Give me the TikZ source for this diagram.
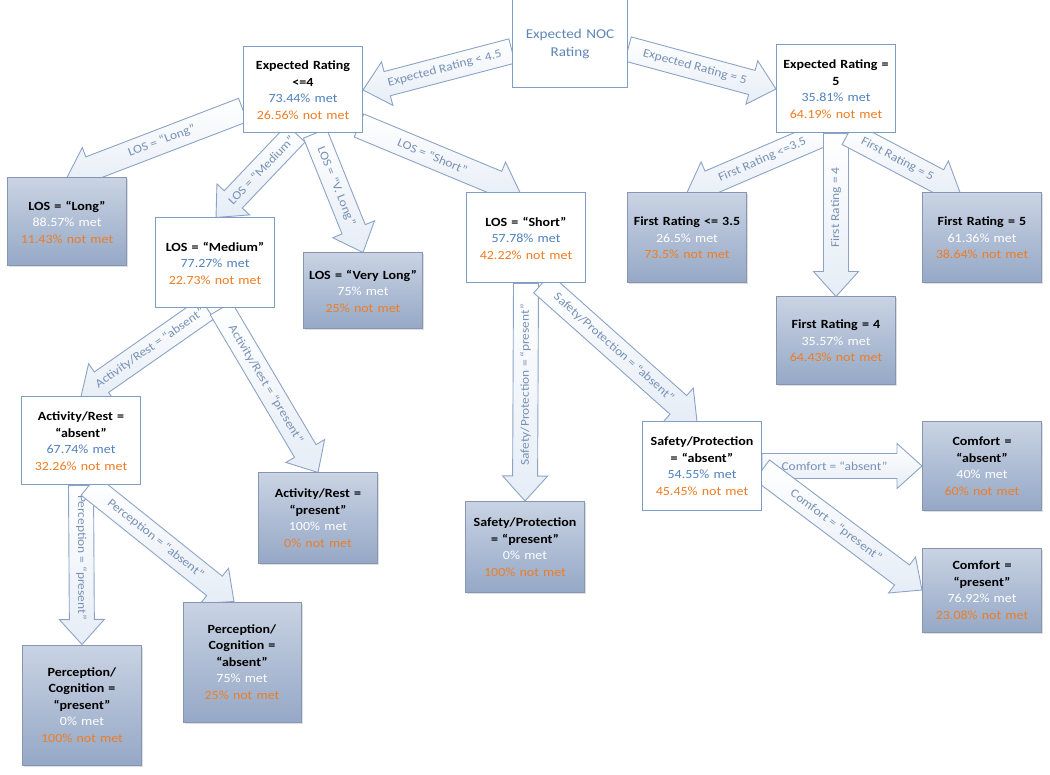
\documentclass[tikz,border=0pt]{standalone}
\usepackage{fontspec}
\setmainfont{Carlito}[FakeStretch=1.12]
\usepackage{tikz}
\usetikzlibrary{positioning,shadows,backgrounds}

\definecolor{boxline}{HTML}{7F9CC4}
\definecolor{shadeline}{HTML}{8595B3}
\definecolor{metblue}{HTML}{4F81BD}
\definecolor{notmet}{HTML}{F07C22}
\definecolor{noctext}{HTML}{5E86B8}
\definecolor{shadetop}{HTML}{C9D3E3}
\definecolor{shadebot}{HTML}{95A8C6}
\definecolor{arrowline}{HTML}{8CA3C6}
\definecolor{arrowtext}{HTML}{7891B5}
\definecolor{arrowfill}{HTML}{E6EDF6}

\tikzset{
  plainbox/.style={draw=boxline, line width=1pt, fill=white, minimum width=119pt,
    minimum height=88pt, text width=116pt, align=center, inner sep=1pt,
    font=\fontsize{12.5}{16.5}\selectfont},
  shadebox/.style={plainbox, draw=shadeline, top color=shadetop, bottom color=shadebot,
    drop shadow={opacity=0.25, shadow xshift=1.5pt, shadow yshift=-1.5pt}},
  fatarrow/.style={draw=arrowline, line width=0.9pt, top color=white,
    bottom color=arrowfill, line join=miter},
  arrowlabel/.style={text=arrowtext, font=\fontsize{12}{13}\selectfont, inner sep=0pt},
}

% block arrow from #2 to #3, label #4 (option #1 for the label)
\def\shaftw{12.5pt}
\def\headw{22.5pt}
\def\headlen{25}
\newcommand{\fatarrow}[4][sloped]{%
  \path (#2); \pgfgetlastxy{\ax}{\ay}%
  \path (#3); \pgfgetlastxy{\bx}{\by}%
  \pgfmathsetmacro{\arang}{atan2(\by-\ay,\bx-\ax)}%
  \pgfmathsetmacro{\arlen}{veclen(\bx-\ax,\by-\ay)}%
  \pgfmathsetmacro{\arpos}{(\arlen-0.6*\headlen)/(2*\arlen)}%
  \draw[fatarrow, shift={(\ax,\ay)}, rotate=\arang]
    (0pt,-\shaftw) -- ({\arlen pt-\headlen pt},-\shaftw) -- ({\arlen pt-\headlen pt},-\headw)
    -- ({\arlen pt},0pt) -- ({\arlen pt-\headlen pt},\headw) -- ({\arlen pt-\headlen pt},\shaftw)
    -- (0pt,\shaftw) -- cycle;
  \path (#2) -- (#3) node[pos=\arpos, #1, arrowlabel] {#4};%
}
\newcommand{\stats}[3]{\textcolor{#1}{#2\% met}\\\textcolor{notmet}{#3\% not met}}

\begin{document}
\begin{tikzpicture}[x=1pt, y=-1pt]
  \useasboundingbox (0,0) rectangle (1050,775);

  % root and first split
  \node[plainbox, minimum width=115pt, text width=110pt, text=noctext,
        font=\fontsize{13.5}{18}\selectfont] (noc) at (570,44) {Expected NOC\\Rating};
  \node[plainbox, minimum height=86pt] (le4) at (303,90)
        {\textbf{Expected Rating}\\\textbf{<=4}\\\stats{metblue}{73.44}{26.56}};
  \node[plainbox] (eq5) at (836,89)
        {\textbf{Expected Rating =}\\\textbf{5}\\\stats{metblue}{35.81}{64.19}};

  % length of stay
  \node[shadebox] (long) at (67,222) {\textbf{LOS = “Long”}\\\stats{white}{88.57}{11.43}};
  \node[plainbox, minimum height=90pt] (medium) at (215,263)
        {\textbf{LOS = “Medium”}\\\stats{metblue}{77.27}{22.73}};
  \node[shadebox, minimum height=76pt] (vlong) at (363,291)
        {\textbf{LOS = “Very Long”}\\\stats{white}{75}{25}};
  \node[plainbox, minimum height=90pt] (short) at (526,238)
        {\textbf{LOS = “Short”}\\\stats{metblue}{57.78}{42.22}};

  % first rating
  \node[shadebox, minimum height=90pt] (fr35) at (687,238)
        {\textbf{First Rating <= 3.5}\\\stats{white}{26.5}{73.5}};
  \node[shadebox, minimum height=90pt] (fr5) at (982,238)
        {\textbf{First Rating = 5}\\\stats{white}{61.36}{38.64}};
  \node[shadebox] (fr4) at (836,341)
        {\textbf{First Rating = 4}\\\stats{white}{35.57}{64.43}};

  % activity / rest
  \node[plainbox] (actabs) at (81,441)
        {\textbf{Activity/Rest =}\\\textbf{“absent”}\\\stats{metblue}{67.74}{32.26}};
  \node[shadebox, minimum height=90pt] (actpres) at (318,518)
        {\textbf{Activity/Rest =}\\\textbf{“present”}\\\stats{white}{100}{0}};

  % safety / protection
  \node[shadebox, minimum height=91pt] (safpres) at (525,547)
        {\textbf{Safety/Protection}\\\textbf{= “present”}\\\stats{white}{0}{100}};
  \node[plainbox] (safabs) at (702,466)
        {\textbf{Safety/Protection}\\\textbf{= “absent”}\\\stats{metblue}{54.55}{45.45}};

  % comfort
  \node[shadebox] (comabs) at (982,466)
        {\textbf{Comfort =}\\\textbf{“absent”}\\\stats{white}{40}{60}};
  \node[shadebox, minimum height=84pt] (compres) at (982,590)
        {\textbf{Comfort =}\\\textbf{“present”}\\\stats{white}{76.92}{23.08}};

  % perception / cognition
  \node[shadebox, minimum height=120pt] (percpres) at (82,705)
        {\textbf{Perception/}\\\textbf{Cognition =}\\\textbf{“present”}\\\stats{white}{0}{100}};
  \node[shadebox, minimum height=120pt, minimum width=118pt] (percabs) at (242,662)
        {\textbf{Perception/}\\\textbf{Cognition =}\\\textbf{“absent”}\\\stats{white}{75}{25}};

  \begin{pgfonlayer}{background}
    \fatarrow{[yshift=-7pt]noc.west}{le4.east}{Expected Rating < 4.5}
    \fatarrow{[yshift=-5pt]noc.east}{eq5.west}{Expected Rating = 5}
    \fatarrow{[yshift=-20pt]le4.west}{long.north}{LOS = “Long”}
    \fatarrow{[xshift=-7pt]le4.south}{[xshift=1pt]medium.north}{LOS = “Medium”}
    \fatarrow{[xshift=12pt]le4.south}{vlong.north}{LOS = “V. Long”}
    \fatarrow{[shift={(-4pt,8pt)}]le4.south east}{[xshift=-6pt]short.north}{LOS = “Short”}
    \fatarrow{[xshift=-12pt]eq5.south}{fr35.north}{First Rating <=3.5}
    \fatarrow[rotate=90]{eq5.south}{fr4.north}{First Rating = 4}
    \fatarrow{[xshift=12pt]eq5.south}{[xshift=-22pt]fr5.north}{First Rating = 5}
    \fatarrow{[xshift=-8pt]medium.south}{actabs.north}{Activity/Rest = “absent”}
    \fatarrow{[xshift=6pt]medium.south}{actpres.north}{Activity/Rest = “present”}
    \fatarrow[rotate=90]{short.south}{safpres.north}{Safety/Protection = “present”}
    \fatarrow{[xshift=16pt]short.south}{[xshift=-5pt]safabs.north}{Safety/Protection = “absent”}
    \fatarrow{safabs.east}{comabs.west}{Comfort = “absent”}
    \fatarrow{[yshift=-4pt]safabs.east}{compres.west}{Comfort = “present”}
    \fatarrow[rotate=-90]{actabs.south}{percpres.north}{Perception = “present”}
    \fatarrow{[xshift=8pt]actabs.south}{[xshift=-8pt]percabs.north}{Perception = “absent”}
  \end{pgfonlayer}
\end{tikzpicture}
\end{document}
